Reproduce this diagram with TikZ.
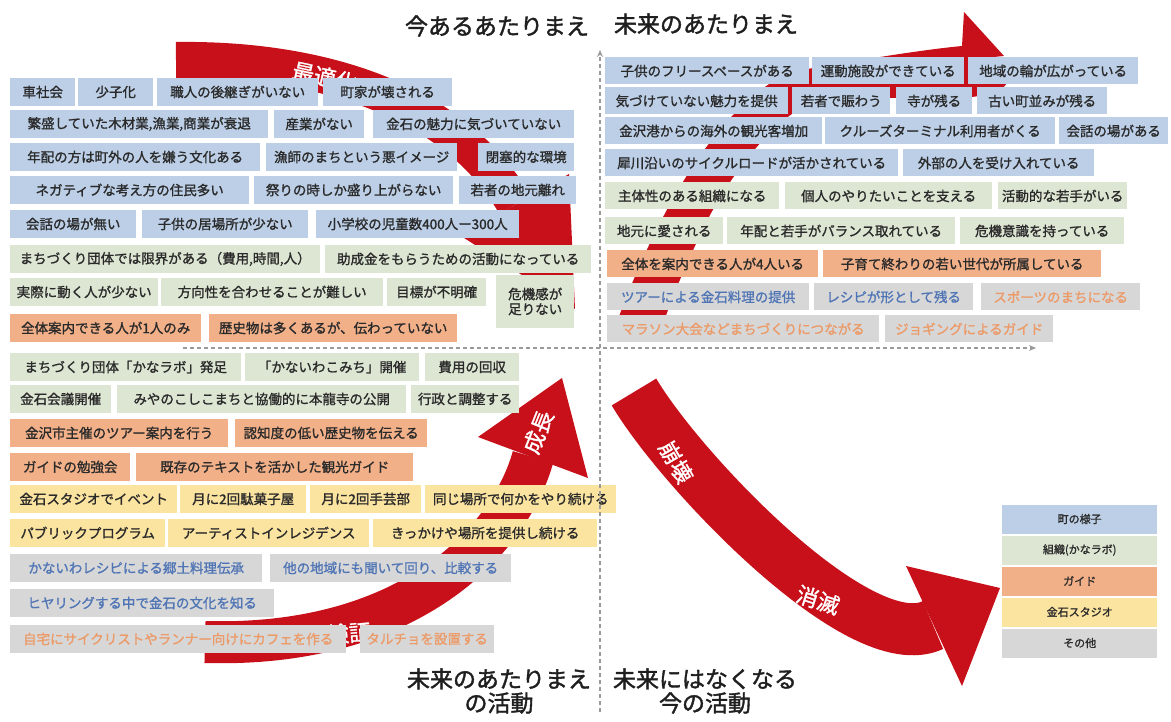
\documentclass[tikz,border=0pt]{standalone}
\usepackage{fontspec}
\setmainfont{Noto Sans CJK JP}
\newfontfamily\jpb{Noto Sans CJK JP}[FakeBold=1.2]
\newfontfamily\jpt{Noto Sans CJK JP}[FakeBold=1.6]
\usetikzlibrary{arrows.meta}
\definecolor{cB}{HTML}{BCCFE7}
\definecolor{cG}{HTML}{DCE6D3}
\definecolor{cO}{HTML}{F2B089}
\definecolor{cY}{HTML}{FBE3A0}
\definecolor{cGr}{HTML}{D7D7D7}
\definecolor{cTxt}{HTML}{2A2A2A}
\definecolor{cTb}{HTML}{5075B5}
\definecolor{cTo}{HTML}{EC9A68}
\definecolor{cRed}{HTML}{C8101A}
\definecolor{cAx}{HTML}{9A9A9A}
\newcommand\mybox[6]{\node[#1, minimum width={(#4-#3)*1pt}, anchor=west] (#2) at (#3,#5) {#6};}
\begin{document}
\begin{tikzpicture}[x=1pt,y=-1pt,
  box/.style={inner sep=0pt, minimum height=28pt, text=cTxt, font=\jpb\fontsize{13.5}{15}\selectfont},
  rbox/.style={minimum height=27pt},
  sB/.style={box, fill=cB},
  sG/.style={box, fill=cG},
  sO/.style={box, fill=cO},
  sY/.style={box, fill=cY},
  sGb/.style={box, fill=cGr, text=cTb},
  sGo/.style={box, fill=cGr, text=cTo},
  lg/.style={inner sep=0pt, minimum height=29pt, text=cTxt, font=\jpb\fontsize{11}{13}\selectfont},
  wtxt/.style={text=white, inner sep=0pt, font=\jpb\fontsize{22}{24}\selectfont},
  ttl/.style={text=black!88, inner sep=0pt, align=center, font=\jpt\fontsize{23}{24}\selectfont},
  axis/.style={cAx, line width=1.2pt, dash pattern=on 4pt off 3pt, -{Stealth[length=7pt,width=6pt]}}
]
\useasboundingbox (0,0) rectangle (1171,722);
\fill[white] (0,0) rectangle (1171,722);

% ---- red arrows (behind boxes) ----
% top-left arrow
\draw[cRed, line width=36pt] (176,60) .. controls (320,58) and (455,100) .. (515,205);
\fill[cRed] (569,174) -- (575,309) -- (461,236) -- cycle;
\node[wtxt, rotate=-12] (tOpt) at (325,77) {最適化};
% bottom-left arrow
\draw[cRed, line width=42pt] (205,642) .. controls (410,648) and (510,540) .. (533,457);
\fill[cRed] (478,437) -- (562,378) -- (588,478) -- cycle;
\node[wtxt, rotate=68] (tGrow) at (538,432) {成長};
\node[wtxt, rotate=5] (tTest) at (316,636) {実験・検証};
% top-right arrow
\fill[cRed] (614,330) .. controls (650,230) and (710,110) .. (790,72)
  .. controls (860,60) and (920,50) .. (962,46) -- (964,12) -- (1004,56) -- (994,57)
  .. controls (1020,80) and (1010,95) .. (960,98) -- (830,98)
  .. controls (790,100) and (740,160) .. (710,215)
  .. controls (690,255) and (670,300) .. (660,334) -- cycle;
% right falling arrow
\draw[cRed, line width=52pt] (634,392) .. controls (680,470) and (860,660) .. (933,625);
\fill[cRed] (906,566) -- (1000,588) -- (962,686) -- cycle;
\node[wtxt, rotate=-60] (tColl) at (676,462) {崩壊};
\node[wtxt, rotate=-18] (tVan) at (818,600) {消滅};

% ---- left column boxes ----
\mybox{sB}{l1a}{10}{75}{92}{車社会}
\mybox{sB}{l1b}{78}{153}{92}{少子化}
\mybox{sB}{l1c}{157}{318}{92}{職人の後継ぎがいない}
\mybox{sB}{l1d}{323}{452}{92}{町家が壊される}
\mybox{sB}{l2a}{10}{268}{124}{繁盛していた木材業,漁業,商業が衰退}
\mybox{sB}{l2b}{274}{364}{124}{産業がない}
\mybox{sB}{l2c}{373}{574}{124}{金石の魅力に気づいていない}
\mybox{sB}{l3a}{10}{260}{157}{年配の方は町外の人を嫌う文化ある}
\mybox{sB}{l3b}{266}{457}{157}{漁師のまちという悪イメージ}
\mybox{sB}{l3c}{478}{574}{157}{閉塞的な環境}
\mybox{sB}{l4a}{10}{249}{190}{ネガティブな考え方の住民多い}
\mybox{sB}{l4b}{254}{453}{190}{祭りの時しか盛り上がらない}
\mybox{sB}{l4c}{459}{576}{190}{若者の地元離れ}
\mybox{sB}{l5a}{10}{136}{224}{会話の場が無い}
\mybox{sB}{l5b}{142}{308}{224}{子供の居場所が少ない}
\mybox{sB}{l5c}{316}{519}{224}{小学校の児童数400人ー300人}
\mybox{sG}{l6a}{10}{320}{259}{まちづくり団体では限界がある（費用,時間,人）}
\mybox{sG}{l6b}{325}{591}{259}{助成金をもらうための活動になっている}
\mybox{sG}{l7a}{10}{158}{292}{実際に動く人が少ない}
\mybox{sG}{l7b}{161}{383}{292}{方向性を合わせることが難しい}
\mybox{sG}{l7c}{387}{486}{292}{目標が不明確}
\mybox{sG, minimum height=53pt, align=center}{l7d}{496}{574}{301.5}{危機感が\\足りない}
\mybox{sO}{l8a}{10}{201}{328}{全体案内できる人が1人のみ}
\mybox{sO}{l8b}{209}{457}{328}{歴史物は多くあるが、伝わっていない}
\mybox{sG}{l9a}{10}{241}{367}{まちづくり団体「かなラボ」発足}
\mybox{sG}{l9b}{245}{419}{367}{「かないわこみち」開催}
\mybox{sG}{l9c}{425}{519}{367}{費用の回収}
\mybox{sG}{l10a}{10}{111}{399}{金石会議開催}
\mybox{sG}{l10b}{117}{406}{399}{みやのこしこまちと協働的に本龍寺の公開}
\mybox{sG}{l10c}{411}{519}{399}{行政と調整する}
\mybox{sO}{l11a}{10}{228}{433}{金沢市主催のツアー案内を行う}
\mybox{sO}{l11b}{235}{427}{433}{認知度の低い歴史物を伝える}
\mybox{sO}{l12a}{10}{130}{467}{ガイドの勉強会}
\mybox{sO}{l12b}{136}{413}{467}{既存のテキストを活かした観光ガイド}
\mybox{sY}{l13a}{10}{177}{499}{金石スタジオでイベント}
\mybox{sY}{l13b}{180}{306}{499}{月に2回駄菓子屋}
\mybox{sY}{l13c}{310}{421}{499}{月に2回手芸部}
\mybox{sY}{l13d}{425}{616}{499}{同じ場所で何かをやり続ける}
\mybox{sY}{l14a}{10}{165}{533}{パブリックプログラム}
\mybox{sY}{l14b}{168}{369}{533}{アーティストインレジデンス}
\mybox{sY}{l14c}{373}{597}{533}{きっかけや場所を提供し続ける}
\mybox{sGb}{l15a}{10}{262}{568}{かないわレシピによる郷土料理伝承}
\mybox{sGb}{l15b}{270}{511}{568}{他の地域にも聞いて回り、比較する}
\mybox{sGb}{l16a}{10}{274}{603}{ヒヤリングする中で金石の文化を知る}
\mybox{sGo}{l17a}{10}{346}{639}{自宅にサイクリストやランナー向けにカフェを作る}
\mybox{sGo}{l17b}{360}{494}{639}{タルチョを設置する}

% ---- right column boxes ----
\mybox{sB, rbox}{r1a}{605}{809}{71}{子供のフリースペースがある}
\mybox{sB, rbox}{r1b}{812}{964}{71}{運動施設ができている}
\mybox{sB, rbox}{r1c}{968}{1138}{71}{地域の輪が広がっている}
\mybox{sB, rbox}{r2a}{605}{788}{101}{気づけていない魅力を提供}
\mybox{sB, rbox}{r2b}{792}{890}{101}{若者で賑わう}
\mybox{sB, rbox}{r2c}{896}{972}{101}{寺が残る}
\mybox{sB, rbox}{r2d}{977}{1107}{101}{古い町並みが残る}
\mybox{sB, rbox}{r3a}{605}{822}{131}{金沢港からの海外の観光客増加}
\mybox{sB, rbox}{r3b}{825}{1055}{131}{クルーズターミナル利用者がくる}
\mybox{sB, rbox}{r3c}{1059}{1168}{131}{会話の場がある}
\mybox{sB, rbox}{r4a}{605}{898}{163}{犀川沿いのサイクルロードが活かされている}
\mybox{sB, rbox}{r4b}{903}{1094}{163}{外部の人を受け入れている}
\mybox{sG, rbox}{r5a}{605}{779}{196}{主体性のある組織になる}
\mybox{sG, rbox}{r5b}{785}{992}{196}{個人のやりたいことを支える}
\mybox{sG, rbox}{r5c}{998}{1127}{196}{活動的な若手がいる}
\mybox{sG, rbox}{r6a}{605}{723}{231}{地元に愛される}
\mybox{sG, rbox}{r6b}{727}{955}{231}{年配と若手がバランス取れている}
\mybox{sG, rbox}{r6c}{960}{1124}{231}{危機意識を持っている}
\mybox{sO, rbox}{r7a}{607}{818}{264}{全体を案内できる人が4人いる}
\mybox{sO, rbox}{r7b}{823}{1101}{264}{子育て終わりの若い世代が所属している}
\mybox{sGb, rbox}{r8a}{607}{809}{297}{ツアーによる金石料理の提供}
\mybox{sGb, rbox}{r8b}{814}{973}{297}{レシピが形として残る}
\mybox{sGo, rbox}{r8c}{981}{1140}{297}{スポーツのまちになる}
\mybox{sGo, rbox}{r9a}{607}{879}{329}{マラソン大会などまちづくりにつながる}
\mybox{sGo, rbox}{r9b}{885}{1053}{329}{ジョギングによるガイド}

% ---- legend ----
\mybox{lg, fill=cB}{g1}{1002}{1157}{519}{町の様子}
\mybox{lg, fill=cG}{g2}{1002}{1157}{550}{組織(かなラボ)}
\mybox{lg, fill=cO}{g3}{1002}{1157}{581}{ガイド}
\mybox{lg, fill=cY}{g4}{1002}{1157}{612}{金石スタジオ}
\mybox{lg, fill=cGr}{g5}{1002}{1157}{643}{その他}

% ---- axes ----
\coordinate (vb) at (600,712);
\coordinate (vt) at (600,50);
\coordinate (hl) at (183,348);
\coordinate (hr) at (1036,348);
\draw[axis] (vb) -- (vt);
\draw[axis] (hl) -- (hr);

% ---- titles ----
\node[ttl] (ti1) at (497,26) {今あるあたりまえ};
\node[ttl] (ti2) at (706,24) {未来のあたりまえ};
\node[ttl] (ti3) at (499,691) {未来のあたりまえ\\の活動};
\node[ttl] (ti4) at (705,691) {未来にはなくなる\\今の活動};
\end{tikzpicture}
\end{document}
